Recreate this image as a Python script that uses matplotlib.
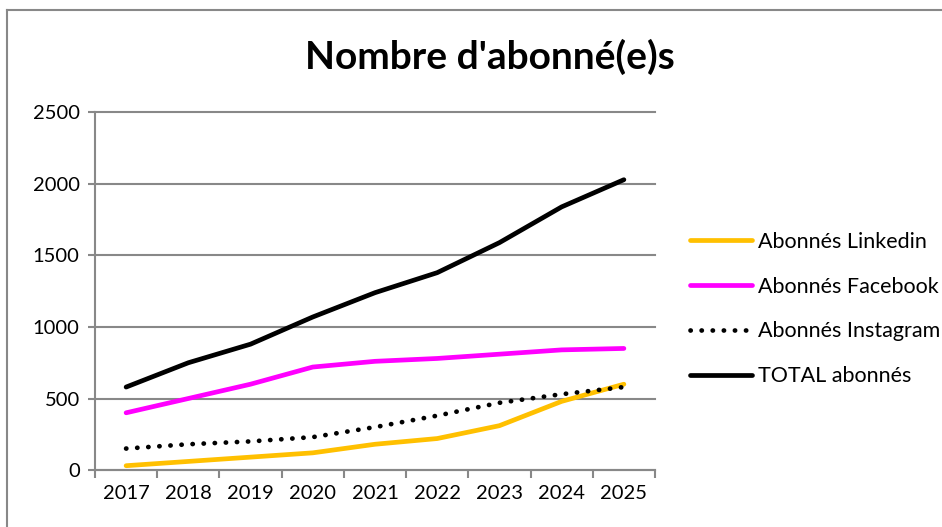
import matplotlib
matplotlib.use("Agg")
import matplotlib.pyplot as plt
from matplotlib.lines import Line2D

years = ["2017", "2018", "2019", "2020", "2021", "2022", "2023", "2024", "2025"]
linkedin = [30, 60, 90, 120, 180, 220, 310, 480, 600]
facebook = [400, 500, 600, 720, 760, 780, 810, 840, 850]
instagram = [150, 180, 200, 230, 300, 380, 470, 530, 580]
total = [580, 750, 880, 1070, 1240, 1380, 1590, 1840, 2030]
yticks = [0, 500, 1000, 1500, 2000, 2500]

plt.rcParams['font.family'] = ['Lato', 'DejaVu Sans']

W, H = 942, 527
fig = plt.figure(figsize=(W / 100, H / 100), dpi=100)
ax = fig.add_axes([95 / W, 1 - 470 / H, 560 / W, 357.5 / H])

grid_c = "#888888"
x = list(range(len(years)))
ax.plot(x, linkedin, color="#FFC000", lw=3.4, solid_capstyle="round", label="Abonnés Linkedin")
ax.plot(x, facebook, color="#FF00FF", lw=3.4, solid_capstyle="round", label="Abonnés Facebook")
ax.plot(x, instagram, color="black", lw=3.4, linestyle=(0, (0.05, 2.3)), dash_capstyle="round",
        label="Abonnés Instagram")
ax.plot(x, total, color="black", lw=3.4, solid_capstyle="round", label="TOTAL abonnés")

ax.set_xlim(-0.5, len(years) - 0.5)
ax.set_ylim(0, 2500)
ax.set_yticks(yticks)
ax.set_yticklabels([str(v) for v in yticks], fontsize=14.5)
ax.set_xticks(x)
ax.set_xticklabels(years, fontsize=14.5)
ax.set_xticks([i - 0.5 for i in range(len(years) + 1)], minor=True)
ax.tick_params(axis="x", which="major", length=0, pad=11)
ax.tick_params(axis="x", which="minor", length=6, width=1.5, color=grid_c, direction="out")
ax.tick_params(axis="y", length=5, width=1.5, color=grid_c, direction="out", pad=6)
ax.yaxis.grid(True, color=grid_c, lw=1.5)
for gl in ax.get_ygridlines():
    gl.set_clip_on(False)
ax.set_axisbelow(True)
for s in ["top", "right"]:
    ax.spines[s].set_visible(False)
for s in ["left", "bottom"]:
    ax.spines[s].set_color(grid_c)
    ax.spines[s].set_linewidth(1.5)

fig.text(490 / W, 1 - 57 / H, "Nombre d'abonné(e)s", ha="center", va="center",
         fontsize=28, fontweight="bold")

leg = fig.legend(loc="center left", bbox_to_anchor=(690 / W, 1 - 309 / H), frameon=False,
                 fontsize=15.5, handlelength=2.9, handletextpad=0.25, labelspacing=1.15,
                 borderpad=0, borderaxespad=0)

# outer chart frame
fig.add_artist(Line2D([7 / W, 1], [1 - 10 / H, 1 - 10 / H], color=grid_c, lw=1.5,
                      transform=fig.transFigure))
fig.add_artist(Line2D([7 / W, 7 / W], [0, 1 - 10 / H], color=grid_c, lw=1.5,
                      transform=fig.transFigure))

fig.savefig("out.png", dpi=100)
